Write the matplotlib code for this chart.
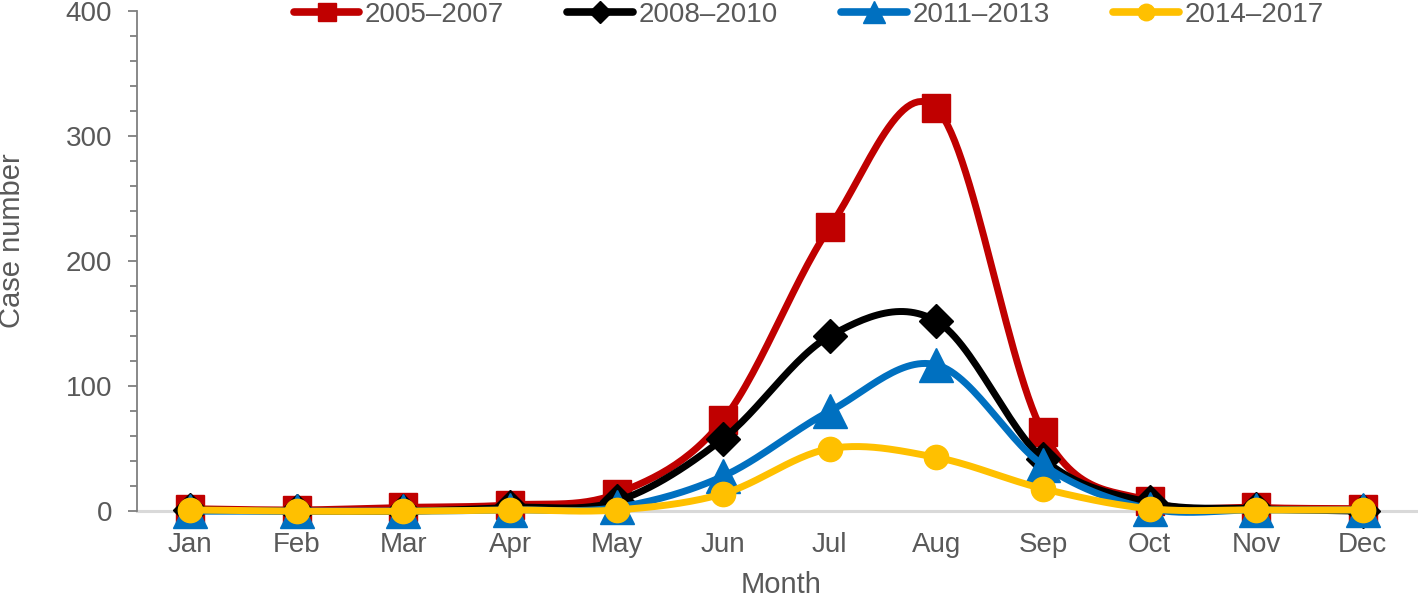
import numpy as np
import matplotlib.pyplot as plt
from matplotlib.ticker import MultipleLocator

plt.rcParams['font.family'] = ['Liberation Sans', 'DejaVu Sans']

months = ['Jan', 'Feb', 'Mar', 'Apr', 'May', 'Jun', 'Jul', 'Aug', 'Sep', 'Oct', 'Nov', 'Dec']
labels = ['2005\u20132007', '2008\u20132010', '2011\u20132013', '2014\u20132017']
s0507 = [2, 1, 3, 5, 14, 73, 227, 322, 63, 8, 3, 2]
s0810 = [1, 0, 0, 3, 8, 58, 140, 152, 42, 7, 2, 0]
s1113 = [0, 0, 0, 1, 3, 28, 80, 117, 37, 2, 1, 1]
s1417 = [1, 0, 0, 1, 1, 14, 50, 43, 18, 2, 1, 1]

series = [s0507, s0810, s1113, s1417]
colors = ['#C00000', '#000000', '#0070C0', '#FFC000']
markers = ['s', 'D', '^', 'o']
msizes = [20, 17, 24, 17.5]


def smooth(x, y, n=30):
    # Excel-style smoothed line: bezier through the points (Catmull-Rom tangents)
    p = np.column_stack([x, y]).astype(float)
    p = np.vstack([p[0], p, p[-1]])
    out = []
    for i in range(1, len(p) - 2):
        p0, p1, p2, p3 = p[i - 1], p[i], p[i + 1], p[i + 2]
        c1 = p1 + (p2 - p0) / 6
        c2 = p2 - (p3 - p1) / 6
        t = np.linspace(0, 1, n)[:, None]
        seg = ((1 - t) ** 3) * p1 + 3 * ((1 - t) ** 2) * t * c1 + 3 * (1 - t) * t ** 2 * c2 + t ** 3 * p2
        out.append(seg if i == 1 else seg[1:])
    out = np.vstack(out)
    return out[:, 0], out[:, 1]


fig = plt.figure(figsize=(14.18, 6), dpi=100)
ax = fig.add_axes([0.0966, 0.148, 0.902, 0.834])

x = np.arange(len(months))
for s, c, m, ms, lab in zip(series, colors, markers, msizes, labels):
    xs, ys = smooth(x, s)
    ax.plot(xs, ys, color=c, lw=5, solid_capstyle='round', zorder=3, clip_on=False)
    ax.plot(x, s, linestyle='none', marker=m, ms=ms, color=c, zorder=3, clip_on=False)
    ax.plot([], [], color=c, lw=5.5, marker=m, ms=ms * 0.68, label=lab,
            solid_capstyle='round')

ax.set_xlim(-0.5, 11.5)
ax.set_ylim(0, 400)
ax.set_xticks(x)
ax.set_xticklabels(months)
ax.yaxis.set_major_locator(MultipleLocator(100))
ax.yaxis.set_minor_locator(MultipleLocator(20))

gray = '#595959'
ax.spines['top'].set_visible(False)
ax.spines['right'].set_visible(False)
ax.spines['left'].set_color('#7F7F7F')
ax.spines['left'].set_linewidth(1.3)
ax.spines['bottom'].set_color('#D9D9D9')
ax.spines['bottom'].set_linewidth(2.2)
ax.spines['bottom'].set_zorder(1)
ax.tick_params(axis='x', length=0, labelsize=20, labelcolor=gray, pad=15)
ax.tick_params(axis='y', which='major', length=6.5, width=1.3, color='#7F7F7F',
               labelsize=20, labelcolor=gray, pad=11.5)
ax.tick_params(axis='y', which='minor', length=5, width=1.3, color='#7F7F7F')

fig.text(781 / 1418, 1 / 600, 'Month', fontsize=21, color=gray,
         ha='center', va='bottom')
fig.text(12 / 1418, 1 - 241 / 600, 'Case number', fontsize=21, color=gray,
         rotation=90, ha='center', va='center')

ax.legend(loc='center', bbox_to_anchor=(0.525, 0.992), ncol=4, frameon=False,
          fontsize=20, labelcolor=gray, handlelength=2.37, handletextpad=0.18,
          columnspacing=2.3, borderaxespad=0, borderpad=0)

fig.savefig('out.png', dpi=100)
